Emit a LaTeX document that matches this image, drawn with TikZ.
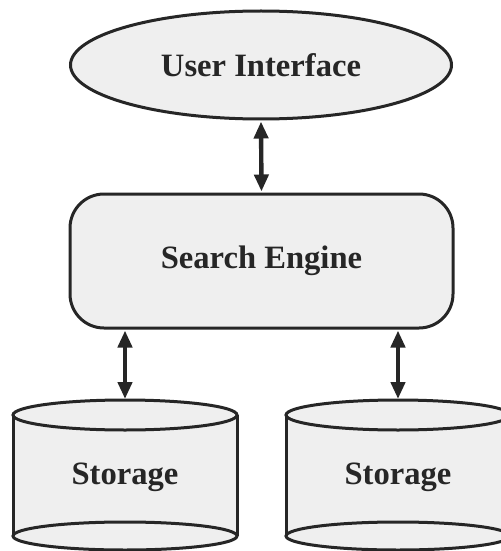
\documentclass[tikz,border=0pt]{standalone}
\usepackage{fontspec}
\setmainfont{Liberation Serif}
\newfontfamily\labfont{Liberation Serif}
\usetikzlibrary{shapes.geometric,arrows.meta}
\definecolor{ink}{HTML}{262626}
\definecolor{paper}{HTML}{EFEFEF}
\begin{document}
\begin{tikzpicture}[x=0.5pt,y=-0.5pt,
  lbl/.style={font=\labfont\fontsize{16.3}{19}\selectfont\bfseries, text=ink},
  shapeline/.style={draw=ink, line width=1.5pt, fill=paper},
  link/.style={draw=ink, line width=2.2pt, {Triangle[length=8.5pt,width=7pt]}-{Triangle[length=8.5pt,width=7pt]}, shorten <=0.5pt, shorten >=0.5pt}]
\useasboundingbox (0,0) rectangle (501,551);
\clip (0,0) rectangle (501,551);
% user interface
\node[ellipse, shapeline, minimum width=190.5pt, minimum height=54pt, inner sep=0pt, lbl] (ui) at (261,65) {User Interface};
% search engine
\node[rectangle, rounded corners=17pt, shapeline, minimum width=191.5pt, minimum height=67pt, lbl] (se) at (261.5,261) {Search Engine};
% storage cylinders
\foreach \cx/\nm in {125/s1, 398/s2} {
  \fill[paper] (\cx-112,415) -- (\cx-112,536) arc[start angle=180, end angle=360, x radius=56pt, y radius=7pt] -- (\cx+112,415) arc[start angle=0, end angle=180, x radius=56pt, y radius=7.5pt] -- cycle;
  \draw[ink, line width=1.5pt] (\cx,415) ellipse [x radius=56pt, y radius=7.5pt];
  \draw[ink, line width=1.5pt] (\cx,536) ellipse [x radius=56pt, y radius=7pt];
  \draw[ink, line width=1.5pt] (\cx-112,415) -- (\cx-112,536) (\cx+112,415) -- (\cx+112,536);
  \coordinate (\nm top) at (\cx,400);
}
\node[lbl] (st1) at (125,477) {Storage};
\node[lbl] (st2) at (398,477) {Storage};
% connectors
\draw[link] (ui.south) -- (se.north);
\draw[link] (se.south -| s1top) -- (s1top);
\draw[link] (se.south -| s2top) -- (s2top);
\end{tikzpicture}
\end{document}
